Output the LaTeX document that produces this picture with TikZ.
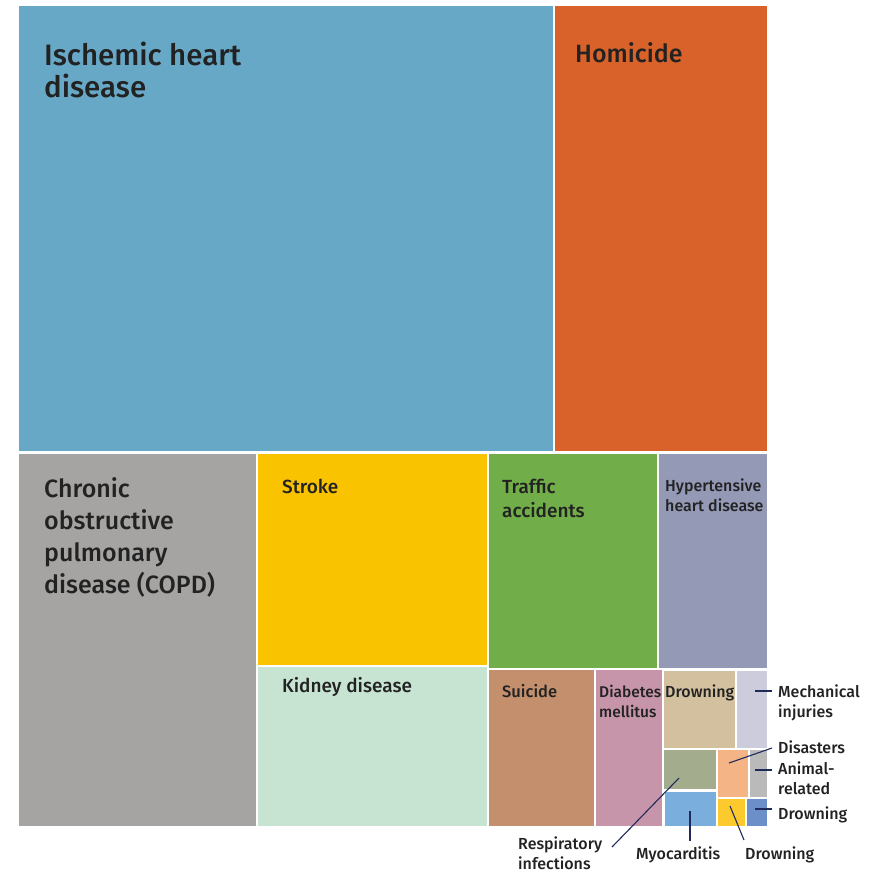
\documentclass[tikz,border=0pt]{standalone}
\usepackage{fontspec}
\setmainfont{Fira Sans Medium}
\begin{document}
\begin{tikzpicture}[x=1pt,y=-1pt,
  lab/.style={anchor=base west,inner sep=0pt,text=txt,align=left},
  huge/.style={lab,font=\fontsize{29.5}{32}\selectfont},
  big/.style={lab,font=\fontsize{25}{32}\selectfont},
  mid/.style={lab,font=\fontsize{19}{24}\selectfont},
  sml/.style={lab,font=\fontsize{16}{20}\selectfont},
  lead/.style={draw=navy,line width=1.1pt}]
\definecolor{txt}{HTML}{222222}
\definecolor{navy}{HTML}{1F2A5A}
\definecolor{cIsch}{HTML}{67A8C7}
\definecolor{cHom}{HTML}{D9622A}
\definecolor{cCopd}{HTML}{A5A4A2}
\definecolor{cStr}{HTML}{FAC300}
\definecolor{cKid}{HTML}{C7E4D3}
\definecolor{cTra}{HTML}{71AD48}
\definecolor{cHyp}{HTML}{9499B6}
\definecolor{cSui}{HTML}{C48F6D}
\definecolor{cDia}{HTML}{C795AA}
\definecolor{cDrT}{HTML}{D3C09F}
\definecolor{cMec}{HTML}{CCCCDC}
\definecolor{cRes}{HTML}{A3AD8E}
\definecolor{cMyo}{HTML}{7AAFDD}
\definecolor{cDis}{HTML}{F5B486}
\definecolor{cAni}{HTML}{BABABA}
\definecolor{cDrY}{HTML}{FDCA2E}
\definecolor{cDrB}{HTML}{6C8FC9}
\useasboundingbox[fill=white] (0,0) rectangle (875,873);
% cells
\fill[cIsch] (19,6) rectangle (553,451);
\fill[cHom] (555,6) rectangle (767,451);
\fill[cCopd] (19,454) rectangle (256,826);
\fill[cStr] (258,454) rectangle (487,665);
\fill[cKid] (258,667) rectangle (487,826);
\fill[cTra] (489,454) rectangle (657,668);
\fill[cHyp] (659,454) rectangle (767,668);
\fill[cSui] (489,670) rectangle (594,826);
\fill[cDia] (596,670) rectangle (662,826);
\fill[cDrT] (664,671) rectangle (735,748);
\fill[cMec] (737,671) rectangle (767,748);
\fill[cRes] (664,750) rectangle (716,789);
\fill[cMyo] (665,792) rectangle (716,826);
\fill[cDis] (718,750) rectangle (748,797);
\fill[cAni] (750,750) rectangle (767,797);
\fill[cDrY] (718,799) rectangle (745,826);
\fill[cDrB] (747,799) rectangle (767,826);
% labels inside (anchor = baseline of the last line)
\node[huge] (tIsch) at (44,97) {Ischemic heart\\disease};
\node[big] (tHom) at (575,62) {Homicide};
\node[big] (tCopd) at (44,593) {Chronic\\obstructive\\pulmonary\\disease (COPD)};
\node[mid] (tStr) at (282,493) {Stroke};
\node[mid] (tKid) at (282,692) {Kidney disease};
\node[mid] (tTra) at (502,517) {Traffic\\accidents};
\node[sml] (tHyp) at (665,511) {Hypertensive\\heart disease};
\node[lab,font=\fontsize{16.5}{20}\selectfont] (tSui) at (502,697) {Suicide};
\node[lab,font=\fontsize{15.5}{20}\selectfont] (tDia) at (599,717) {Diabetes\\mellitus};
\node[sml] (tDrT) at (665,697) {Drowning};
% outside labels
\node[sml] (tMec) at (778,717) {Mechanical\\injuries};
\node[sml] (tDis) at (778,753) {Disasters};
\node[sml] (tAni) at (778,794) {Animal-\\related};
\node[sml] (tDrB) at (778,819) {Drowning};
\node[sml] (tRes) at (518,869) {Respiratory\\infections};
\node[sml] (tMyo) at (636,859) {Myocarditis};
\node[sml] (tDrY) at (745,859) {Drowning};
% leader lines
\coordinate (pMec) at (755,691);
\coordinate (pDis) at (729,763);
\coordinate (pAni) at (755,770);
\coordinate (pDrB) at (755,809);
\coordinate (pDrY) at (730,806);
\coordinate (pMyo) at (690,811);
\coordinate (pRes) at (679,778);
\draw[lead] (pMec) -- (772,691);
\draw[lead] (pDis) -- (772,748);
\draw[lead] (pAni) -- (772,770);
\draw[lead] (pDrB) -- (772,809);
\draw[lead] (pDrY) -- (744,840);
\draw[lead] (pMyo) -- (690,841);
\draw[lead] (pRes) -- (612,847);
\end{tikzpicture}
\end{document}
